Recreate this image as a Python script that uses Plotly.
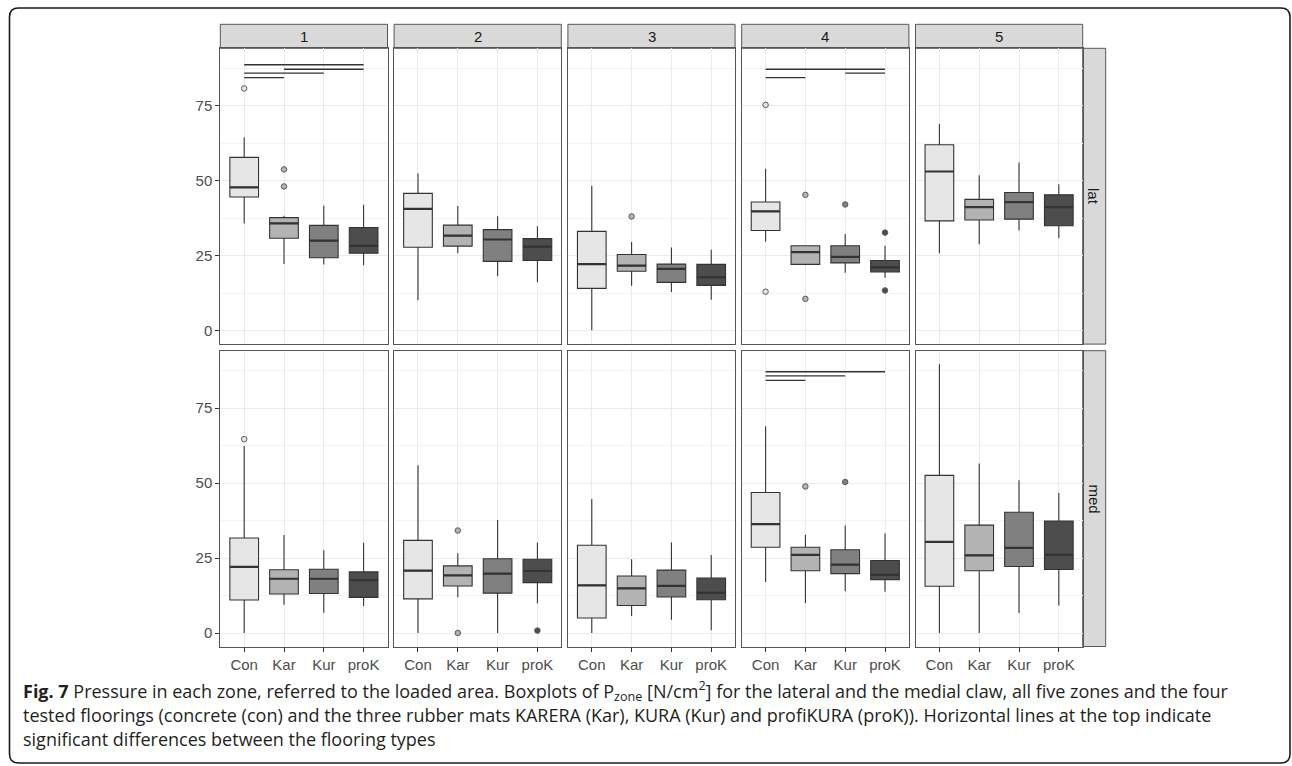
import plotly.graph_objects as go

# ---------------- data ----------------
groups = ["Con", "Kar", "Kur", "proK"]
zones = ["1", "2", "3", "4", "5"]
claws = ["lat", "med"]
y_ticks = [0, 25, 50, 75]

# lateral claw: one list of 4 values (Con, Kar, Kur, proK) per zone
lat_upper = [[64.4, 38.3, 41.7, 42.0], [52.4, 41.6, 38.2, 34.8], [48.3, 29.6, 27.7, 27.0],
             [54.0, 28.4, 32.2, 28.3], [68.9, 51.8, 56.1, 48.8]]
lat_q3 = [[57.8, 37.7, 35.1, 34.4], [45.8, 35.2, 33.7, 30.7], [33.1, 25.4, 22.2, 22.1],
          [42.9, 28.3, 28.3, 23.4], [62.0, 43.8, 46.1, 45.3]]
lat_median = [[47.8, 35.8, 30.0, 28.3], [40.6, 31.7, 30.4, 28.0], [22.2, 21.7, 20.6, 17.8],
              [39.8, 26.2, 24.6, 21.1], [53.1, 41.2, 42.9, 41.2]]
lat_q1 = [[44.6, 30.8, 24.3, 25.8], [27.8, 28.2, 23.1, 23.4], [14.1, 19.8, 16.1, 15.1],
          [33.4, 22.1, 22.6, 19.6], [36.6, 36.9, 37.2, 35.0]]
lat_lower = [[35.7, 22.2, 22.1, 21.8], [10.1, 25.8, 18.1, 16.1], [0.1, 15.0, 12.9, 10.3],
             [29.7, 21.8, 19.3, 17.6], [25.8, 28.8, 33.4, 30.8]]

# medial claw
med_upper = [[62.4, 32.7, 27.6, 30.1], [56.0, 26.6, 37.7, 30.1], [44.7, 24.6, 30.2, 26.0],
             [69.0, 32.8, 35.9, 33.2], [89.7, 56.6, 51.0, 46.7]]
med_q3 = [[31.7, 21.1, 21.3, 20.4], [30.9, 22.4, 24.8, 24.6], [29.3, 19.0, 21.0, 18.3],
          [46.9, 28.6, 27.8, 24.2], [52.6, 36.0, 40.3, 37.4]]
med_median = [[22.1, 18.1, 18.1, 17.6], [20.8, 19.2, 19.8, 20.7], [15.9, 14.9, 15.7, 13.4],
              [36.3, 26.1, 22.8, 19.4], [30.4, 25.9, 28.4, 26.1]]
med_q1 = [[11.0, 13.0, 13.2, 11.9], [11.4, 15.7, 13.3, 16.8], [5.0, 9.2, 12.0, 11.1],
          [28.6, 20.8, 19.8, 17.8], [15.6, 20.8, 22.2, 21.2]]
med_lower = [[0.0, 9.4, 6.8, 9.0], [0.0, 11.9, 0.0, 9.9], [0.0, 5.7, 4.4, 0.9],
             [17.0, 10.0, 13.9, 13.8], [0.0, 0.0, 6.7, 9.2]]

# outliers: (zone, group, value)
lat_outliers = [("1", "Con", 80.8), ("1", "Kar", 53.8), ("1", "Kar", 48.1),
                ("3", "Kar", 38.1),
                ("4", "Con", 75.3), ("4", "Con", 13.0), ("4", "Kar", 45.3), ("4", "Kar", 10.6),
                ("4", "Kur", 42.1), ("4", "proK", 32.7), ("4", "proK", 13.4)]
med_outliers = [("1", "Con", 64.7), ("2", "Kar", 34.2), ("2", "Kar", 0.0),
                ("2", "proK", 0.8), ("4", "Kar", 48.9), ("4", "Kur", 50.4)]

# significance lines: (zone, from group, to group, height)
lat_sig = [("1", "Con", "proK", 88.7), ("1", "Kar", "proK", 87.2), ("1", "Con", "Kur", 85.9),
           ("1", "Con", "Kar", 84.4), ("4", "Con", "proK", 87.2), ("4", "Kur", "proK", 85.9),
           ("4", "Con", "Kar", 84.4)]
med_sig = [("4", "Con", "proK", 87.2), ("4", "Con", "Kur", 85.8), ("4", "Con", "Kar", 84.3)]

caption_lines = [
    "<b>Fig. 7</b> Pressure in each zone, referred to the loaded area. Boxplots of P<sub>zone</sub> "
    "[N/cm<sup>2</sup>] for the lateral and the medial claw, all five zones and the four",
    "tested floorings (concrete (con) and the three rubber mats KARERA (Kar), KURA (Kur) and "
    "profiKURA (proK)). Horizontal lines at the top indicate",
    "significant differences between the flooring types",
]

# ---------------- styling / layout ----------------
W, H = 1292, 766
fills = ["#E6E6E6", "#B3B3B3", "#808080", "#4D4D4D"]
box_line = "#333333"
border = "#555555"
box_w = 0.72

col_left = [220.3, 394.1, 567.9, 741.7, 915.5]
col_w = 167.2
row_top = [48.3, 350.7]
row_h = 295.8
strip_h = 24.0
strip_w = 23.0
y_range = [-4.5, 94.2]
tick_font = dict(family="Liberation Sans, Arial", size=15, color="#4D4D4D")


def fx(x):
    return x / W


def fy(y):
    return 1 - y / H


stats = {
    "lat": (lat_lower, lat_q1, lat_median, lat_q3, lat_upper, lat_outliers, lat_sig),
    "med": (med_lower, med_q1, med_median, med_q3, med_upper, med_outliers, med_sig),
}

fig = go.Figure()
shapes = []
annotations = []
layout_axes = {}

for r, claw in enumerate(claws):
    lower, q1, median, q3, upper, outliers, sig = stats[claw]
    for c, zone in enumerate(zones):
        p = r * 5 + c + 1
        xa = "x" if p == 1 else f"x{p}"
        ya = "y" if p == 1 else f"y{p}"
        for g, grp in enumerate(groups):
            fig.add_trace(go.Box(
                x=[g], q1=[q1[c][g]], median=[median[c][g]], q3=[q3[c][g]],
                lowerfence=[lower[c][g]], upperfence=[upper[c][g]],
                width=box_w, whiskerwidth=0, fillcolor=fills[g],
                line=dict(color=box_line, width=1.1), boxpoints=False,
                xaxis=xa, yaxis=ya, showlegend=False, hoverinfo="skip"))
            shapes.append(dict(type="line", xref=xa, yref=ya,
                               x0=g - box_w / 2, x1=g + box_w / 2,
                               y0=median[c][g], y1=median[c][g],
                               line=dict(color=box_line, width=2.2), layer="above"))
            vals = [v for (z, gg, v) in outliers if z == zone and gg == grp]
            if vals:
                fig.add_trace(go.Scatter(
                    x=[g] * len(vals), y=vals, mode="markers",
                    marker=dict(size=5.5, color=fills[g], line=dict(color="#5A5A5A", width=1)),
                    xaxis=xa, yaxis=ya, showlegend=False, hoverinfo="skip"))
        for (z, g1, g2, h) in sig:
            if z == zone:
                shapes.append(dict(type="line", xref=xa, yref=ya,
                                   x0=groups.index(g1), x1=groups.index(g2), y0=h, y1=h,
                                   line=dict(color="#333333", width=1.4), layer="above"))

        x0p = col_left[c]
        x1p = col_left[c] + col_w
        y0p = row_top[r]
        y1p = row_top[r] + row_h
        bottom = r == 1
        layout_axes["xaxis" if p == 1 else f"xaxis{p}"] = dict(
            domain=[fx(x0p), fx(x1p)], anchor=ya, range=[-0.6, 3.6],
            tickvals=list(range(len(groups))), ticktext=groups,
            showticklabels=bottom, ticks="outside" if bottom else "", ticklen=4,
            tickcolor="#333333", tickfont=tick_font,
            showgrid=True, gridcolor="#EBEBEB", gridwidth=1, zeroline=False,
            showline=True, mirror=True, linecolor=border, linewidth=1)
        layout_axes["yaxis" if p == 1 else f"yaxis{p}"] = dict(
            domain=[fy(y1p), fy(y0p)], anchor=xa, range=y_range,
            tickvals=y_ticks, showticklabels=(c == 0), ticks="outside" if c == 0 else "",
            ticklen=4, tickcolor="#333333", tickfont=tick_font,
            showgrid=True, gridcolor="#EBEBEB", gridwidth=1, zeroline=False,
            minor=dict(tickvals=[12.5, 37.5, 62.5, 87.5], showgrid=True,
                       gridcolor="#F3F3F3", gridwidth=0.6, ticks=""),
            showline=True, mirror=True, linecolor=border, linewidth=1)

# top strips
for c, zone in enumerate(zones):
    x0p = col_left[c]
    x1p = col_left[c] + col_w
    shapes.append(dict(type="rect", xref="paper", yref="paper",
                       x0=fx(x0p), x1=fx(x1p), y0=fy(row_top[0]), y1=fy(row_top[0] - strip_h),
                       fillcolor="#D9D9D9", line=dict(color=border, width=1), layer="below"))
    annotations.append(dict(xref="paper", yref="paper", x=fx((x0p + x1p) / 2),
                            y=fy(row_top[0] - strip_h / 2), text=zone, showarrow=False,
                            xanchor="center", yanchor="middle",
                            font=dict(family="Liberation Sans, Arial", size=15, color="#1A1A1A")))
# right strips
sx0 = col_left[4] + col_w
for r, claw in enumerate(claws):
    shapes.append(dict(type="rect", xref="paper", yref="paper",
                       x0=fx(sx0), x1=fx(sx0 + strip_w), y0=fy(row_top[r] + row_h), y1=fy(row_top[r]),
                       fillcolor="#D9D9D9", line=dict(color=border, width=1), layer="below"))
    annotations.append(dict(xref="paper", yref="paper", x=fx(sx0 + strip_w / 2),
                            y=fy(row_top[r] + row_h / 2), text=claw, showarrow=False,
                            textangle=90, xanchor="center", yanchor="middle",
                            font=dict(family="Liberation Sans, Arial", size=15, color="#1A1A1A")))

# caption
cap_y = [691, 715, 739]
for line, yy in zip(caption_lines, cap_y):
    annotations.append(dict(xref="paper", yref="paper", x=fx(21), y=fy(yy), text=line,
                            showarrow=False, xanchor="left", yanchor="middle", align="left",
                            font=dict(family="Open Sans", size=18, color="#231F20")))

# rounded frame
L, T, R, B, rad = 9.5, 8.0, 1290.0, 763.0, 9.0
path = (f"M {fx(L + rad)},{fy(T)} L {fx(R - rad)},{fy(T)} Q {fx(R)},{fy(T)} {fx(R)},{fy(T + rad)} "
        f"L {fx(R)},{fy(B - rad)} Q {fx(R)},{fy(B)} {fx(R - rad)},{fy(B)} "
        f"L {fx(L + rad)},{fy(B)} Q {fx(L)},{fy(B)} {fx(L)},{fy(B - rad)} "
        f"L {fx(L)},{fy(T + rad)} Q {fx(L)},{fy(T)} {fx(L + rad)},{fy(T)} Z")
shapes.append(dict(type="path", xref="paper", yref="paper", path=path,
                   line=dict(color="#1A1A1A", width=1.6), layer="below"))

fig.update_layout(width=W, height=H, margin=dict(l=0, r=0, t=0, b=0),
                  paper_bgcolor="white", plot_bgcolor="white", boxmode="overlay",
                  shapes=shapes, annotations=annotations, **layout_axes)

fig.write_html("out.html", config={"displayModeBar": False},
               post_script="document.body.style.margin='0';")
